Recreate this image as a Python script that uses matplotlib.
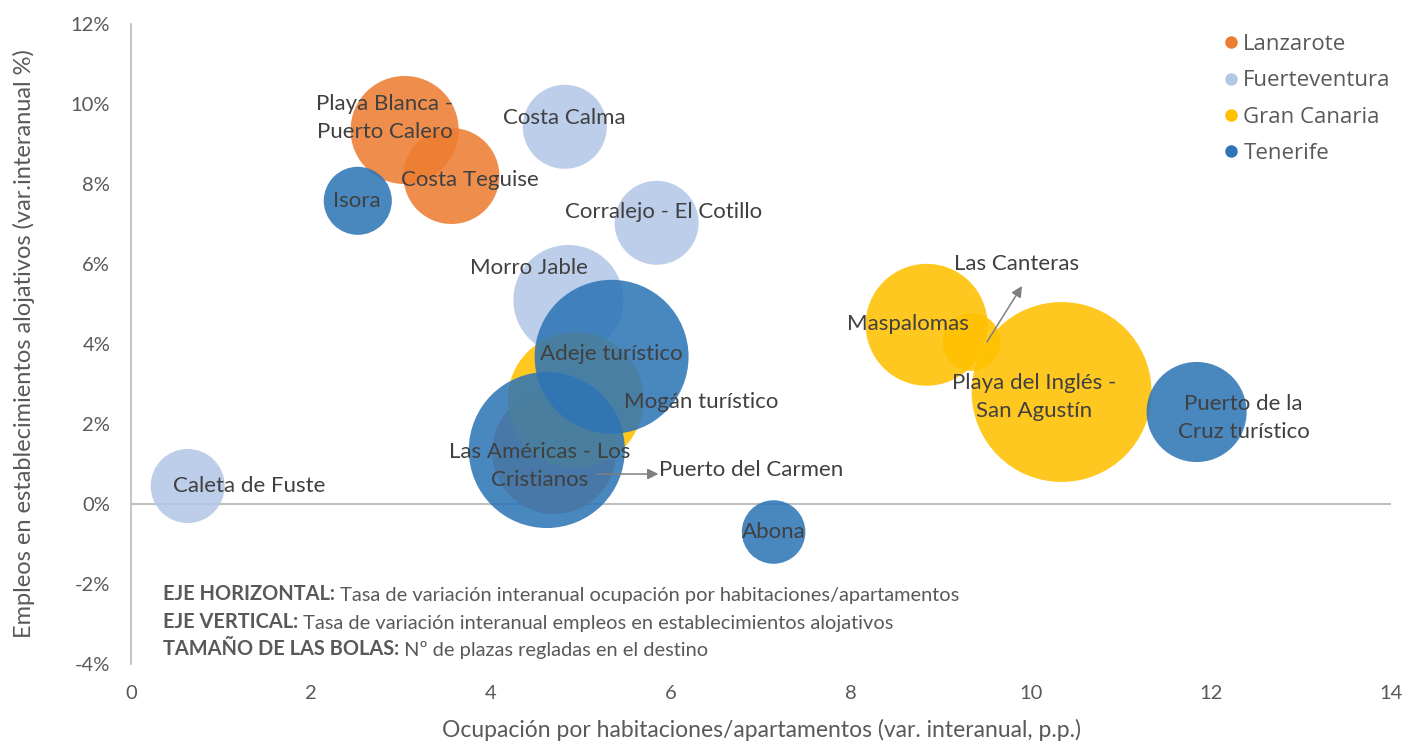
import matplotlib
matplotlib.use('Agg')
import matplotlib.pyplot as plt
from matplotlib.lines import Line2D
from matplotlib.ticker import FuncFormatter

# ---------------- data ----------------
islas = ['Lanzarote', 'Fuerteventura', 'Gran Canaria', 'Tenerife']
colores_isla = ['#ED7D31', '#B4C7E7', '#FFC000', '#2E75B6']

destinos = ['Playa Blanca -\nPuerto Calero', 'Costa Teguise', 'Puerto del Carmen',
            'Costa Calma', 'Corralejo - El Cotillo', 'Morro Jable', 'Caleta de Fuste',
            'Mogán turístico', 'Maspalomas', 'Las Canteras', 'Playa del Inglés -\nSan Agustín',
            'Isora', 'Adeje turístico', 'Las Américas - Los\nCristianos', 'Abona',
            'Puerto de la\nCruz turístico']
isla_destino = ['Lanzarote', 'Lanzarote', 'Lanzarote',
                'Fuerteventura', 'Fuerteventura', 'Fuerteventura', 'Fuerteventura',
                'Gran Canaria', 'Gran Canaria', 'Gran Canaria', 'Gran Canaria',
                'Tenerife', 'Tenerife', 'Tenerife', 'Tenerife', 'Tenerife']
ocupacion = [3.04, 3.56, 4.70, 4.82, 5.84, 4.86, 0.63, 4.94, 8.84, 9.34, 10.34,
             2.52, 5.34, 4.62, 7.14, 11.84]
empleo = [9.35, 8.20, 1.30, 9.43, 7.03, 5.10, 0.45, 2.60, 4.48, 4.05, 2.80,
          7.58, 3.68, 1.35, -0.70, 2.30]
plazas = [21700, 17100, 28500, 13100, 13100, 22500, 10200, 34300, 27600, 6200, 60100,
          8600, 44000, 45200, 7500, 18600]

y_ticks = [-4, -2, 0, 2, 4, 6, 8, 10, 12]
x_ticks = [0, 2, 4, 6, 8, 10, 12, 14]

# ---------------- layout / style ----------------
label_pos = {
    'Playa Blanca -\nPuerto Calero': (2.82, 9.66),
    'Costa Teguise': (3.77, 8.10),
    'Puerto del Carmen': (5.87, 0.85),
    'Costa Calma': (4.82, 9.65),
    'Corralejo - El Cotillo': (5.92, 7.30),
    'Morro Jable': (4.42, 5.90),
    'Caleta de Fuste': (1.31, 0.45),
    'Mogán turístico': (6.34, 2.55),
    'Maspalomas': (8.63, 4.50),
    'Las Canteras': (9.84, 6.00),
    'Playa del Inglés -\nSan Agustín': (10.03, 2.68),
    'Isora': (2.51, 7.58),
    'Adeje turístico': (5.34, 3.75),
    'Las Américas - Los\nCristianos': (4.54, 0.95),
    'Abona': (7.14, -0.70),
    'Puerto de la\nCruz turístico': (12.36, 2.15),
}
label_ha = {'Puerto del Carmen': 'left'}

DPI = 100
fig = plt.figure(figsize=(14.05, 7.42), dpi=DPI)
ax = fig.add_axes([131 / 1405, 78 / 742, 1260 / 1405, 640 / 742])

FONT = ['Lato', 'DejaVu Sans']
TXT = '#404040'
GREY = '#595959'

px_per_sqrt = 0.367  # bubble radius (px) per sqrt(plazas)

for isla, col in zip(islas, colores_isla):
    idx = [i for i, s in enumerate(isla_destino) if s == isla]
    xs = [ocupacion[i] for i in idx]
    ys = [empleo[i] for i in idx]
    ss = [(2 * px_per_sqrt * plazas[i] ** 0.5 * 72 / DPI) ** 2 for i in idx]
    ax.scatter(xs, ys, s=ss, color=col, alpha=0.87, linewidths=0, zorder=3,
               clip_on=False)

for name in destinos:
    x, y = label_pos[name]
    ax.text(x, y, name, ha=label_ha.get(name, 'center'), va='center',
            fontsize=16, color=TXT, family=FONT, linespacing=1.5, zorder=6)

arrow_kw = dict(arrowstyle='-|>', color='#7F7F7F', lw=1.1, mutation_scale=16,
                shrinkA=0, shrinkB=0)
ax.annotate('', xy=(5.86, 0.75), xytext=(5.18, 0.75), arrowprops=arrow_kw, zorder=6)
ax.annotate('', xy=(9.9, 5.45), xytext=(9.51, 4.05), arrowprops=arrow_kw, zorder=6)

ax.set_xlim(0, 14)
ax.set_ylim(-4, 12)
ax.set_xticks(x_ticks)
ax.set_yticks(y_ticks)
ax.yaxis.set_major_formatter(FuncFormatter(lambda v, p: f'{v:.0f}%'))
ax.tick_params(length=0, labelsize=14.5, labelcolor=GREY)
for lab in ax.get_xticklabels() + ax.get_yticklabels():
    lab.set_family(FONT)
ax.tick_params(axis='y', pad=15)
ax.tick_params(axis='x', pad=15)

for sp in ['top', 'right', 'bottom']:
    ax.spines[sp].set_visible(False)
ax.spines['left'].set_color('#BFBFBF')
ax.spines['left'].set_linewidth(1.3)
ax.axhline(0, color='#BFBFBF', lw=1.5, zorder=1)

ax.set_xlabel('Ocupación por habitaciones/apartamentos (var. interanual, p.p.)',
              fontsize=16.5, color=GREY, family=FONT, labelpad=12)
ax.set_ylabel('Empleos en establecimientos alojativos (var.interanual %)',
              fontsize=17, color=GREY, family=FONT, labelpad=26)

# legend
handles = [Line2D([], [], marker='o', ls='none', markersize=9, color=c,
                  markeredgewidth=0) for c in colores_isla]
leg = fig.legend(handles, islas, loc='upper left',
                 bbox_to_anchor=(1220 / 1405, 1 - 34 / 742), frameon=False,
                 prop={'family': ['Open Sans', 'DejaVu Sans'], 'size': 16},
                 labelspacing=0.69, handletextpad=0.05, handlelength=1.0,
                 borderpad=0, borderaxespad=0)
for t in leg.get_texts():
    t.set_color(GREY)

# explanatory text block
notes = [('EJE HORIZONTAL:', ' Tasa de variación interanual ocupación por habitaciones/apartamentos'),
         ('EJE VERTICAL:', ' Tasa de variación interanual empleos en establecimientos alojativos'),
         ('TAMAÑO DE LAS BOLAS:', ' Nº de plazas regladas en el destino')]
for k, (b, r) in enumerate(notes):
    yb = 1 - (600 + 27.5 * k) / 742
    t = fig.text(163 / 1405, yb, b, fontsize=14.4, fontweight='bold', color=GREY,
                 family=FONT, va='baseline', ha='left')
    ax.annotate(r, xy=(1, 0), xycoords=t, va='bottom', ha='left', fontsize=14.4,
                color=GREY, family=FONT, annotation_clip=False)

fig.savefig('out.png', dpi=DPI)
